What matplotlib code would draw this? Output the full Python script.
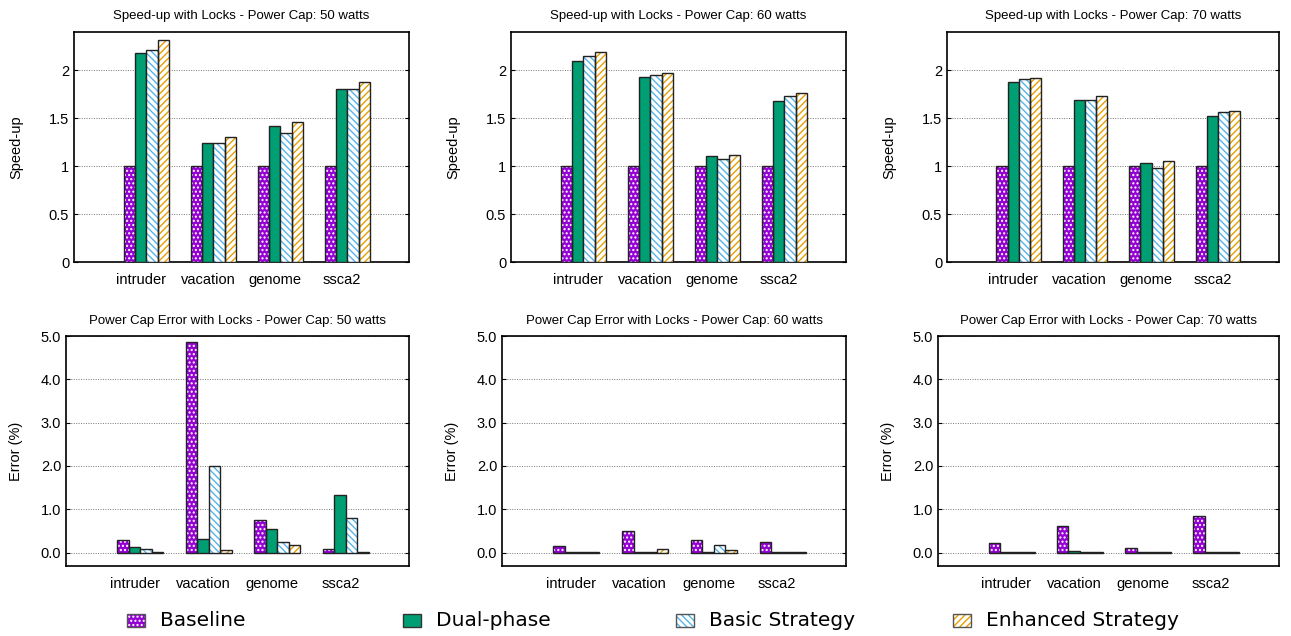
"""Speed-up and power cap error with locks, three power caps (gnuplot-style histograms)."""

import matplotlib

matplotlib.use("Agg")
import matplotlib.pyplot as plt
from matplotlib.patches import Rectangle

benchmarks = ["intruder", "vacation", "genome", "ssca2"]
series_names = ["Baseline", "Dual-phase", "Basic Strategy", "Enhanced Strategy"]
power_caps = [50, 60, 70]

# speed-up, one list per series, values per benchmark
speedup_50 = [
    [1.0, 1.0, 1.0, 1.0],
    [2.18, 1.24, 1.42, 1.81],
    [2.21, 1.24, 1.35, 1.80],
    [2.32, 1.30, 1.46, 1.875],
]
speedup_60 = [
    [1.0, 1.0, 1.0, 1.0],
    [2.10, 1.93, 1.11, 1.68],
    [2.15, 1.955, 1.07, 1.735],
    [2.19, 1.97, 1.12, 1.76],
]
speedup_70 = [
    [1.0, 1.0, 1.0, 1.0],
    [1.875, 1.69, 1.03, 1.52],
    [1.91, 1.69, 0.985, 1.57],
    [1.925, 1.735, 1.05, 1.58],
]

# power cap error (%)
error_50 = [
    [0.28, 4.85, 0.75, 0.08],
    [0.13, 0.31, 0.54, 1.33],
    [0.09, 2.00, 0.25, 0.79],
    [0.005, 0.05, 0.18, 0.01],
]
error_60 = [
    [0.15, 0.49, 0.285, 0.255],
    [0.003, 0.003, 0.003, 0.003],
    [0.003, 0.003, 0.18, 0.003],
    [0.003, 0.08, 0.05, 0.003],
]
error_70 = [
    [0.22, 0.62, 0.11, 0.855],
    [0.003, 0.03, 0.003, 0.003],
    [0.003, 0.003, 0.003, 0.003],
    [0.003, 0.003, 0.01, 0.003],
]

speedups = [speedup_50, speedup_60, speedup_70]
errors = [error_50, error_60, error_70]

# (face, hatch colour, hatch)
STYLES = [
    ("#9400d3", "white", "...."),
    ("#009e73", None, None),
    ("white", "#56b4e9", "\\\\\\\\\\"),
    ("white", "#e69f00", "/////"),
]

W, H = 1291, 636
TEXT_FONT = ["Liberation Sans", "DejaVu Sans"]
plt.rcParams["font.family"] = TEXT_FONT
plt.rcParams["hatch.linewidth"] = 1.0

fig = plt.figure(figsize=(W / 100, H / 100), dpi=100)


def px_axes(x0, x1, y0, y1):
    return fig.add_axes([x0 / W, 1 - y1 / H, (x1 - x0) / W, (y1 - y0) / H])


def draw_bars(ax, values):
    bar_w = 0.168
    for k, (vals, (face, hcol, hatch)) in enumerate(zip(values, STYLES)):
        xs = [i + 0.08 + (k - 1.5) * bar_w for i in range(len(benchmarks))]
        if hatch:
            ax.bar(xs, vals, width=bar_w, color=face, edgecolor=hcol,
                   hatch=hatch, linewidth=0, zorder=3)
            ax.bar(xs, vals, width=bar_w, fill=False, edgecolor="#222222",
                   linewidth=1.0, zorder=4)
        else:
            ax.bar(xs, vals, width=bar_w, color=face, edgecolor="#222222",
                   linewidth=1.0, zorder=3)


def style_axes(ax, title, ylabel, label_offset, width):
    ax.set_xlim(-1, 4)
    ax.set_xticks(range(len(benchmarks)))
    ax.set_xticklabels(benchmarks, fontsize=10.5)
    ax.tick_params(axis="x", length=0, pad=8)
    ax.tick_params(axis="y", direction="in", length=3, right=True, labelsize=10.5)
    ax.set_title(title, fontsize=9.5, pad=9)
    ax.set_ylabel(ylabel, fontsize=10.5)
    ax.yaxis.set_label_coords(-label_offset / width, 0.5)
    ax.yaxis.grid(True, linestyle=(0, (1, 1.5)), color="#777777", linewidth=0.7, zorder=0)
    for spine in ax.spines.values():
        spine.set_linewidth(1.2)


top_x = [(74, 409), (511, 846), (947, 1279)]
bottom_x = [(66, 409), (502, 846), (938, 1279)]

for cap, vals, (x0, x1) in zip(power_caps, speedups, top_x):
    ax = px_axes(x0, x1, 32, 262)
    draw_bars(ax, vals)
    style_axes(ax, f"Speed-up with Locks - Power Cap: {cap} watts", "Speed-up", 51, x1 - x0)
    ax.set_ylim(0, 2.4)
    ax.set_yticks([0, 0.5, 1, 1.5, 2])
    ax.set_yticklabels(["0", "0.5", "1", "1.5", "2"])

for cap, vals, (x0, x1) in zip(power_caps, errors, bottom_x):
    ax = px_axes(x0, x1, 336, 566)
    draw_bars(ax, vals)
    style_axes(ax, f"Power Cap Error with Locks - Power Cap: {cap} watts", "Error (%)", 43, x1 - x0)
    ax.set_ylim(-0.31, 5.0)
    ax.set_yticks([0, 1, 2, 3, 4, 5])
    ax.set_yticklabels(["0.0", "1.0", "2.0", "3.0", "4.0", "5.0"])

# legend along the bottom, placed like gnuplot's key
legend_x = [127, 403, 676, 953]
for name, lx, (face, hcol, hatch) in zip(series_names, legend_x, STYLES):
    box = dict(xy=(lx / W, 1 - 627 / H), width=18 / W, height=13 / H,
               transform=fig.transFigure)
    if hatch:
        fig.patches.append(Rectangle(**box, facecolor=face, edgecolor=hcol,
                                     hatch=hatch, linewidth=0))
        fig.patches.append(Rectangle(**box, fill=False, edgecolor="#555555", linewidth=1))
    else:
        fig.patches.append(Rectangle(**box, facecolor=face, edgecolor="#333333", linewidth=1))
    fig.text((lx + 33) / W, 1 - 620 / H, name, fontsize=14.5, va="center",
             family="DejaVu Sans")

fig.savefig("out.png", dpi=100)
